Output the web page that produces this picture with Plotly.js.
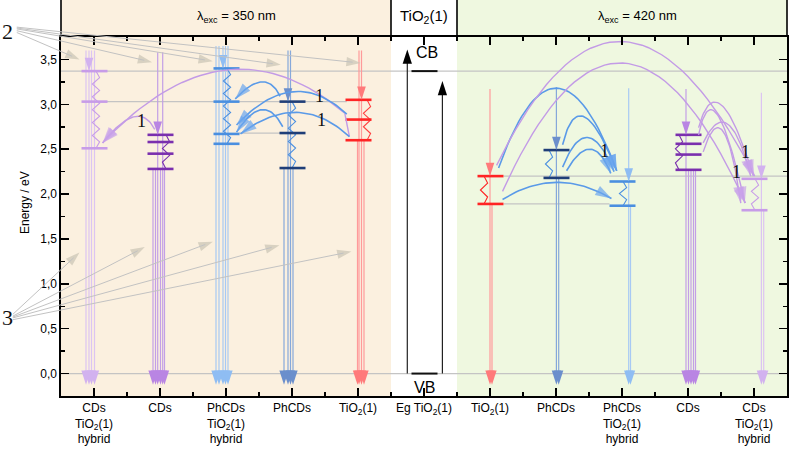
<!DOCTYPE html>
<html><head><meta charset="utf-8">
<script src="https://cdn.plot.ly/plotly-3.0.1.min.js"></script>
<style>html,body{margin:0;padding:0;background:#fff}#chart{width:791px;height:451px}</style>
</head><body><div id="chart"></div>
<script>
// ---------------- data ----------------
const categories = [
  'CDs<br>TiO<sub>2</sub>(1)<br>hybrid', 'CDs', 'PhCDs<br>TiO<sub>2</sub>(1)<br>hybrid', 'PhCDs', 'TiO<sub>2</sub>(1)',
  'Eg TiO<sub>2</sub>(1)',
  'TiO<sub>2</sub>(1)', 'PhCDs', 'PhCDs<br>TiO<sub>2</sub>(1)<br>hybrid', 'CDs', 'CDs<br>TiO<sub>2</sub>(1)<br>hybrid'];
// energy levels (eV) per column
const levels = [
  [3.37, 3.03, 2.51],
  [2.66, 2.58, 2.45, 2.28],
  [3.40, 3.03, 2.67, 2.56],
  [3.03, 2.68, 2.29],
  [3.05, 2.83, 2.60],
  [3.37, 0.00],
  [2.20, 1.89],
  [2.49, 2.18],
  [2.14, 1.87],
  [2.66, 2.56, 2.44, 2.27],
  [2.17, 1.82]];
// top of excitation arrow (eV)
const excitationTop = [3.60, 3.58, 3.65, 3.60, 3.60, null, 3.17, 3.19, 3.18, 3.17, 3.13];
const bandGapArrowTop = [3.61, 3.26];
// reference (guide) lines
const refLineE    = [3.37, 3.03, 2.68, 0.00, 2.20, 1.89];
const refLineFrom = [-0.5, -0.17, 2.20, -0.5, 6.21, 6.21];
const refLineTo   = [10.5, 3.83, 2.95, 10.5, 10.5, 7.81];
// transfer arcs (1): start, middle, end
const arcStartX = [3.87, 3.80, 0.92, 2.82, 3.83, 2.86, 3.87, 6.13, 7.10, 7.10, 7.16, 6.19, 6.10, 6.19, 9.16, 9.23, 9.16, 9.23];
const arcStartE = [2.64, 2.90, 2.72, 3.09, 2.89, 2.75, 2.64, 2.29, 2.55, 2.30, 2.26, 1.94, 2.32, 2.03, 2.74, 2.57, 2.66, 2.47];
const arcMidX   = [3.835, 1.98, 0.60, 2.54, 3.01, 2.54, 3.07, 7.01, 7.43, 7.48, 7.52, 7.01, 8.01, 8.01, 9.51, 9.60, 9.45, 9.53];
const arcMidE   = [2.77, 3.38, 2.86, 3.25, 3.14, 2.94, 2.91, 3.18, 2.86, 2.63, 2.50, 2.13, 3.70, 3.46, 2.99, 2.78, 2.88, 2.70];
const arcEndX   = [3.80, 0.13, 0.13, 2.14, 2.16, 2.16, 2.22, 7.92, 7.92, 7.88, 7.83, 7.84, 10.01, 9.87, 9.99, 9.95, 9.86, 9.80];
const arcEndE   = [2.90, 2.57, 2.57, 3.06, 2.77, 2.69, 2.67, 2.26, 2.26, 2.25, 2.23, 1.95, 2.20, 1.90, 2.20, 2.20, 1.90, 1.90];
const arcHue    = ['p','p','p','b','b','b','b','b','b','b','b','b','p','p','p','p','p','p'];
const arcHasHead= [0,1,1,1,1,1,1,1,1,1,1,1,1,1,1,1,1,1];
// pathway 2 and 3 pointers
const path2TailX = -1.17, path3TailX = -1.23;
const path2TailE = [3.80, 3.82, 3.84, 3.85, 3.86];
const path2TipX  = [-0.22, 0.88, 1.80, 2.83, 4.04];
const path2TipE  = [3.50, 3.47, 3.48, 3.44, 3.46];
const path3TailE = [0.66, 0.64, 0.63, 0.62, 0.60];
const path3TipX  = [-0.22, 0.77, 1.80, 2.81, 3.90];
const path3TipE  = [1.35, 1.41, 1.47, 1.43, 1.36];
// "1" labels
const oneX = [0.72, 3.42, 3.45, 7.74, 9.87, 9.74];
const oneE = [2.81, 3.09, 2.82, 2.48, 2.47, 2.25];

// ---------------- styles ----------------
const W = 791, H = 451, M = {l:61, r:4, t:37, b:55};
const XR = [-0.5, 10.5], YR = [-0.25, 3.75];
const PX = (XR[1]-XR[0])/(W-M.l-M.r);
const PY = (YR[1]-YR[0])/(H-M.t-M.b);
const lineOffsetsPx = [[-5,-8,-2.5,0.5],[-2.3,2.7,-7,-4.5,0.5,4.5],[-3,-10,-7,-0.5,2],[-4,-1.5,-8,1],[3.5,1,6,-0.5],[],
  [0,2],[0.4,2.7],[6.7,8.5],[-2,0.5,3,5.5,7.5],[7.4,9.7]];
const topCount = [4,2,5,2,2,0,1,1,1,1,1];
const zigOffsetPx = [2,6,1,0,9,null,-6,-7,1,-9,1];
const barColor  = ['#c79ce8','#7a2fae','#4a8fe0','#1f3e78','#ff2424','#111111','#ff2424','#1f3e78','#4a8fe0','#7a2fae','#c79ce8'];
const vlineColor= ['#dcc4f2','#c39fe6','#a7c9f4','#86a8da','#ff9a9a','#333333','#ff9a9a','#86a8da','#a7c9f4','#c39fe6','#dcc4f2'];
const headColor = ['#d2b2ef','#b985e3','#8fbdf3','#6b8fcc','#ff7a7a','#000000','#ff7a7a','#6b8fcc','#8fbdf3','#b985e3','#d2b2ef'];
const zigColor  = ['#c79ce8','#7a2fae','#4a8fe0','#4a8fe0','#ff4040','#000000','#ff2424','#4a8fe0','#4a8fe0','#7a2fae','#c79ce8'];
const arcLine = {p:'#c39be6', b:'#5a9ae8'};
const arcHead = {p:'#c9a2ea', b:'#6aa5ee'};

const traces = [];
function lineTrace(xs, ys, color, width) {
  traces.push({type:'scatter', mode:'lines', x:xs, y:ys, line:{color:color, width:width}, hoverinfo:'skip', showlegend:false});
}
function headTrace(xs, ys, color, size, angle) {
  traces.push({type:'scatter', mode:'markers', x:xs, y:ys, cliponaxis:false, hoverinfo:'skip', showlegend:false,
    marker:{symbol:'arrow', size:size, color:color, angle:angle, line:{width:0}}});
}

// reference lines
(function(){
  const xs=[], ys=[];
  refLineE.forEach((e,i)=>{ xs.push(refLineFrom[i], refLineTo[i], null); ys.push(e, e, null); });
  lineTrace(xs, ys, '#c4c4c4', 1.3);
})();

// vertical transitions
for (let c = 0; c < categories.length; c++) {
  if (c === 5) continue;
  const offs = lineOffsetsPx[c], lv = levels[c];
  const xs=[], ys=[], hx=[], hy=[];
  offs.forEach((o,i)=>{
    const x = c + o*PX;
    const top = i < topCount[c] ? excitationTop[c] : lv[lv.length-1];
    xs.push(x, x, null); ys.push(top, -0.06, null);
    hx.push(x); hy.push(-0.125);
  });
  lineTrace(xs, ys, vlineColor[c], 1.2);
  headTrace(hx, hy, headColor[c], 15, 180);
}
// zigzags (non radiative relaxation)
for (let c = 0; c < categories.length; c++) {
  if (c === 5) continue;
  const lv = levels[c], top = lv[0], bot = lv[lv.length-1];
  const n = Math.max(2, Math.round((top-bot)/PY/6.5));
  const xs=[], ys=[];
  for (let k=0; k<=n; k++) {
    const amp = (k===0||k===n) ? 0 : (k%2 ? 3.6 : -3.6);
    xs.push(c + (zigOffsetPx[c]+amp)*PX); ys.push(top - (top-bot)*k/n);
  }
  lineTrace(xs, ys, zigColor[c], 1.1);
}
// level bars
for (let c = 0; c < categories.length; c++) {
  const xs=[], ys=[];
  levels[c].forEach(e=>{ xs.push(c+(0.5-13)*PX, c+(0.5+13)*PX, null); ys.push(e, e, null); });
  lineTrace(xs, ys, barColor[c], c===5?2:2.6);
}
// top excitation arrow heads
for (let c = 0; c < categories.length; c++) {
  if (c === 5) continue;
  headTrace([c + lineOffsetsPx[c][0]*PX], [levels[c][0]], headColor[c], 14, 180);
}
// band gap arrows
[-16.7, 18.4].forEach((o,i)=>{
  const x = 5 + o*PX;
  lineTrace([x,x],[0,bandGapArrowTop[i]-0.05], '#222222', 1.2);
  headTrace([x],[bandGapArrowTop[i]], '#000000', 15, 0);
});
// arcs
function bez(p0,p1,p2,t){ const u=1-t; return u*u*p0+2*u*t*p1+t*t*p2; }
for (let i=0;i<arcStartX.length;i++){
  const c1x = 2*arcMidX[i]-(arcStartX[i]+arcEndX[i])/2;
  const c1y = 2*arcMidE[i]-(arcStartE[i]+arcEndE[i])/2;
  const xs=[], ys=[];
  for (let k=0;k<=40;k++){ const t=k/40; xs.push(bez(arcStartX[i],c1x,arcEndX[i],t)); ys.push(bez(arcStartE[i],c1y,arcEndE[i],t)); }
  lineTrace(xs, ys, arcLine[arcHue[i]], arcHue[i]==='b'?1.6:1.4);
  if (arcHasHead[i]) {
    const t=0.96;
    traces.push({type:'scatter', mode:'markers', cliponaxis:false, hoverinfo:'skip', showlegend:false,
      x:[bez(arcStartX[i],c1x,arcEndX[i],t), arcEndX[i]], y:[bez(arcStartE[i],c1y,arcEndE[i],t), arcEndE[i]],
      marker:{symbol:'arrow', size:[0,17], color:arcHead[arcHue[i]], angleref:'previous', line:{width:0}}});
  }
}
// pathway pointer heads
function pointerHeads(tailX, tailE, tipX, tipE){
  tipX.forEach((x,i)=>{
    const px = x - 0.03*(x-tailX), pe = tipE[i] - 0.03*(tipE[i]-tailE[i]);
    traces.push({type:'scatter', mode:'markers', cliponaxis:false, hoverinfo:'skip', showlegend:false,
      x:[px, x], y:[pe, tipE[i]], marker:{symbol:'arrow', size:[0,15], color:'#c9c3b3', angleref:'previous', line:{width:0}}});
  });
}
pointerHeads(path2TailX, path2TailE, path2TipX, path2TipE);
pointerHeads(path3TailX, path3TailE, path3TipX, path3TipE);

// ---------------- shapes ----------------
const xp = v => (v - XR[0])/(XR[1]-XR[0]);
const yp = v => (v - YR[0])/(YR[1]-YR[0]);
const px2paperX = p => (p - M.l)/(W-M.l-M.r);
const px2paperY = p => (H - M.b - p)/(H-M.t-M.b);
const hTop = px2paperY(0);
const shapes = [
  {type:'rect', xref:'x', yref:'paper', x0:-0.5, x1:4.5, y0:0, y1:1, fillcolor:'#fbf0df', line:{width:0}, layer:'below'},
  {type:'rect', xref:'x', yref:'paper', x0:5.5, x1:10.5, y0:0, y1:1, fillcolor:'#eff8e0', line:{width:0}, layer:'below'},
  {type:'rect', xref:'paper', yref:'paper', x0:0, x1:xp(4.5), y0:1, y1:hTop, fillcolor:'#fbf0df', line:{width:0}, layer:'below'},
  {type:'rect', xref:'paper', yref:'paper', x0:xp(5.5), x1:1, y0:1, y1:hTop, fillcolor:'#eff8e0', line:{width:0}, layer:'below'},
];
[0, xp(4.5), xp(5.5), 1].forEach(x=>shapes.push({type:'line', xref:'paper', yref:'paper', x0:x, x1:x, y0:1, y1:hTop, line:{color:'#000', width:1.6}}));
// pointer shafts (stop just before the heads)
function pointerShafts(tailX, tailE, tipX, tipE){
  tipX.forEach((x,i)=>{
    const dxp = (x-tailX)/PX, dyp = (tipE[i]-tailE[i])/PY, L = Math.hypot(dxp, dyp), f = 1 - 8/L;
    shapes.push({type:'line', xref:'paper', yref:'paper', x0:xp(tailX), y0:yp(tailE[i]),
      x1:xp(tailX + f*(x-tailX)), y1:yp(tailE[i] + f*(tipE[i]-tailE[i])), line:{color:'#c2c2c2', width:1}});
  });
}
pointerShafts(path2TailX, path2TailE, path2TipX, path2TipE);
pointerShafts(path3TailX, path3TailE, path3TipX, path3TipE);

// ---------------- annotations ----------------
const ann = [];
const C = {showarrow:false, xanchor:'center', yanchor:'middle'};
oneX.forEach((x,i)=>ann.push(Object.assign({x:x, y:oneE[i], xref:'x', yref:'y', text:'1',
  font:{family:'Liberation Serif, Times New Roman, serif', size:18, color:'#111'}}, C)));
ann.push(Object.assign({x:5.05, y:3.58, xref:'x', yref:'y', text:'CB', font:{size:16, color:'#000'}}, C));
ann.push(Object.assign({x:5.0, y:-0.15, xref:'x', yref:'y', text:'VB', font:{size:16, color:'#000'}}, C));
ann.push(Object.assign({x:px2paperX(25), y:px2paperY(203), xref:'paper', yref:'paper', text:'Energy / eV', textangle:-90, font:{size:12, color:'#000'}}, C));
ann.push(Object.assign({x:px2paperX(7), y:px2paperY(32), xref:'paper', yref:'paper', text:'2', font:{family:'Liberation Serif, Times New Roman, serif', size:22, color:'#111'}}, C));
ann.push(Object.assign({x:px2paperX(7), y:px2paperY(317), xref:'paper', yref:'paper', text:'3', font:{family:'Liberation Serif, Times New Roman, serif', size:22, color:'#111'}}, C));
ann.push(Object.assign({x:px2paperX(236), y:px2paperY(17), xref:'paper', yref:'paper', text:'λ<sub>exc</sub> = 350 nm', font:{size:13, color:'#000'}}, C));
ann.push(Object.assign({x:0.5, y:px2paperY(16), xref:'paper', yref:'paper', text:'TiO<sub>2</sub>(1)', font:{size:15, color:'#000'}}, C));
ann.push(Object.assign({x:px2paperX(637), y:px2paperY(17), xref:'paper', yref:'paper', text:'λ<sub>exc</sub> = 420 nm', font:{size:13, color:'#000'}}, C));

const layout = {
  width:W, height:H, margin:M, paper_bgcolor:'#ffffff', plot_bgcolor:'#ffffff',
  font:{family:'Liberation Sans, Arial, sans-serif', size:12, color:'#000'},
  separators:',.', showlegend:false, hovermode:false,
  xaxis:{range:XR, fixedrange:true, showgrid:false, zeroline:false, showline:true, linecolor:'#000', linewidth:1.6, mirror:'ticks',
    tickmode:'array', tickvals:categories.map((_,i)=>i), ticktext:categories, ticks:'inside', ticklen:8, tickwidth:1.5, tickcolor:'#000',
    tickfont:{size:12, color:'#000'},
    minor:{tickmode:'array', tickvals:categories.slice(1).map((_,i)=>i+0.5), ticks:'inside', ticklen:4, tickwidth:1.5, tickcolor:'#000'}},
  yaxis:{range:YR, fixedrange:true, showgrid:false, zeroline:false, showline:true, linecolor:'#000', linewidth:1.6, mirror:'ticks',
    tickmode:'linear', tick0:0, dtick:0.5, tickformat:'.1f', ticks:'inside', ticklen:8, tickwidth:1.5, tickcolor:'#000',
    tickfont:{size:12, color:'#000'},
    minor:{tick0:0, dtick:0.25, ticks:'inside', ticklen:4, tickwidth:1.5, tickcolor:'#000'}},
  shapes:shapes, annotations:ann
};
Plotly.newPlot('chart', traces, layout, {staticPlot:true, displayModeBar:false});
</script></body></html>
